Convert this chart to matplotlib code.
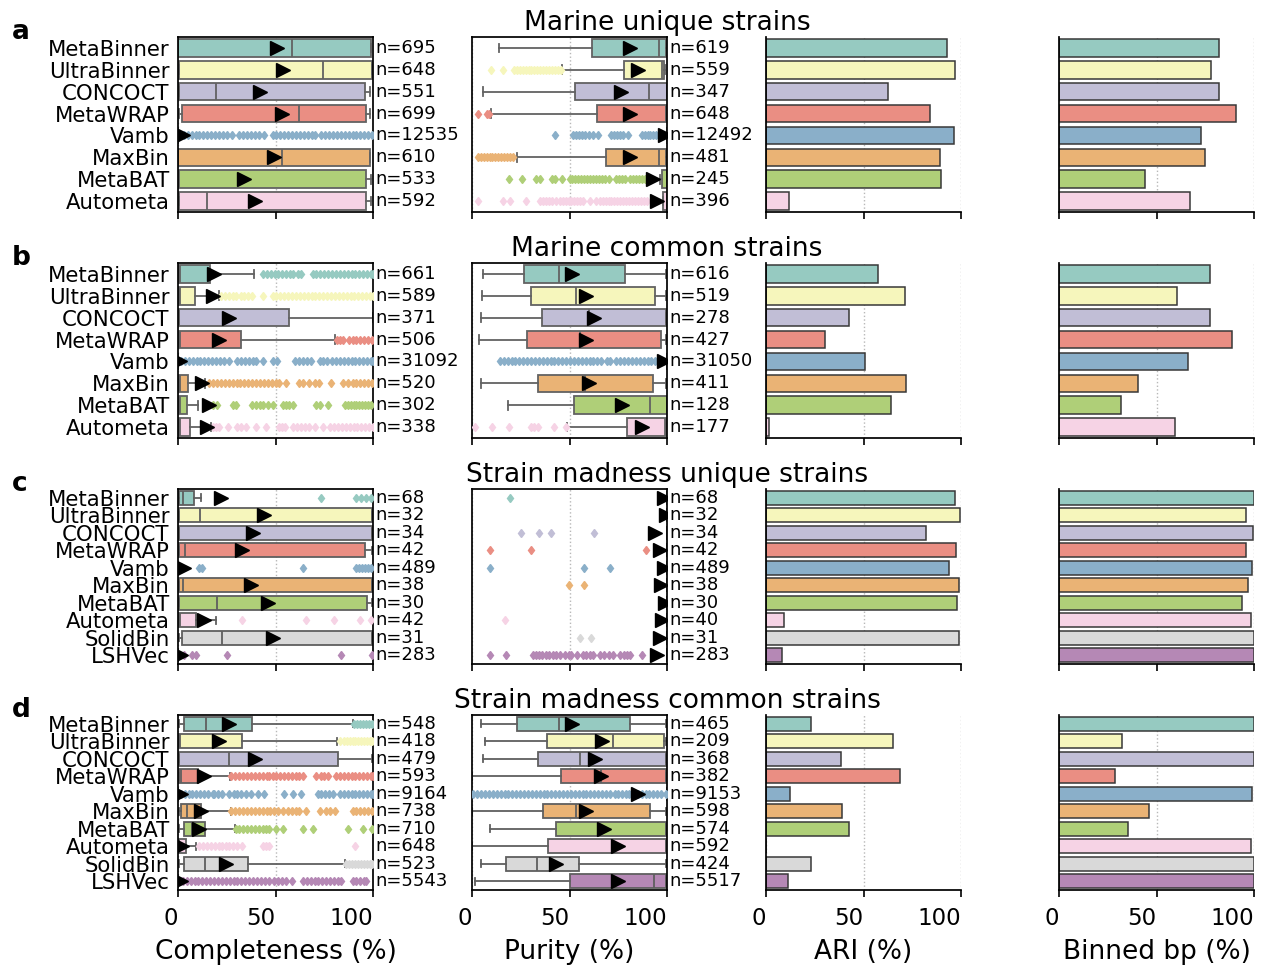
import colorsys
import numpy as np
import matplotlib
matplotlib.use("Agg")
import matplotlib.pyplot as plt
import matplotlib.colors as mcolors
from matplotlib.transforms import blended_transform_factory

plt.rcParams['font.family'] = ['DejaVu Sans']

# ---------------------------------------------------------------- categories
METHODS_MARINE = ["MetaBinner", "UltraBinner", "CONCOCT", "MetaWRAP", "Vamb",
                  "MaxBin", "MetaBAT", "Autometa"]
METHODS_SM = METHODS_MARINE + ["SolidBin", "LSHVec"]
PALETTE = ["#8dd3c7", "#ffffb3", "#bebada", "#fb8072", "#80b1d3",
           "#fdb462", "#b3de69", "#fccde5", "#d9d9d9", "#bc80bd"]

ROW_TITLES = ["Marine unique strains", "Marine common strains",
              "Strain madness unique strains", "Strain madness common strains"]
ROW_LETTERS = ["a", "b", "c", "d"]
COL_LABELS = ["Completeness (%)", "Purity (%)", "ARI (%)", "Binned bp (%)"]
X_TICKS = [0, 50, 100]

# ------------------------------------------------------------- box summaries
# each row: (whisker low, Q1, median, Q3, whisker high, mean)

# a) Marine unique strains
A_COMP_BOX = [(0, 0, 58.5, 99.2, 99.2, 51.0), (0.5, 0.5, 74.6, 99.3, 99.3, 53.7),
              (0.5, 0.5, 19.6, 95.7, 98.5, 42.0), (0.5, 2.0, 62.0, 96.6, 98.5, 53.3),
              (0, 0, 0, 0, 0, 2.5), (0, 0, 53.3, 98.3, 98.3, 49.4),
              (0, 0, 0.3, 96.2, 99.0, 33.6), (0.5, 0.5, 15.0, 96.2, 99.0, 39.6)]
A_COMP_FLIERS = [[], [], [], [],
                 [3, 5, 7, 9, 11, 13, 15, 17, 19, 21, 23, 25, 27.5, 31.5, 33.5, 35.5,
                  37.5, 39.5, 41.5, 44.3, 48.5, 50.5, 52.5, 54.5, 56.5, 58.5, 60.5,
                  62.5, 64.5, 66.5, 68.5, 70.5, 73.5, 75.5, 77.5, 79.5, 81.5, 83.5,
                  85.5, 87.5, 89.5, 91.5, 93.5, 95.5, 97.5, 99.5],
                 [], [], []]
A_COMP_N = [695, 648, 551, 699, 12535, 610, 533, 592]

A_PUR_BOX = [(13.7, 61.4, 95.9, 99.5, 100, 80.9), (45.9, 78.2, 97.5, 98.5, 99.0, 85.2),
             (5.5, 52.9, 90.8, 100, 100, 76.3), (9.6, 64.2, 99.5, 99.7, 100, 80.9),
             (100, 100, 100, 100, 100, 98.8), (23.2, 68.9, 95.7, 99.7, 100, 80.9),
             (96.5, 97.6, 100, 100, 100, 92.7), (98.0, 98.0, 100, 100, 100, 94.9)]
A_PUR_FLIERS = [[],
                [9.6, 15.7, 21.5, 23, 24.5, 26, 27.5, 29, 30.5, 32, 33.5, 35, 36.5,
                 38, 39.5, 41, 42.5, 44, 45.5],
                [],
                [3.2, 7.5, 8.5],
                [42.5, 52, 53.5, 55, 56.5, 58, 60, 62, 64.7, 71.5, 73, 74.5, 76, 77.5,
                 80, 87, 88.5, 90, 91.5, 93, 94.5, 96, 97.5],
                [3.2, 4.5, 6, 7.5, 9, 10.5, 12, 13.5, 15, 16.5, 18, 19.5, 21],
                [19.1, 25.4, 33, 35, 40.8, 42.5, 45.9, 50, 51.5, 53, 54.5, 56, 57.5, 59,
                 60.5, 62, 63.5, 65, 66.5, 68, 70.5, 74, 75.5, 77, 78.3, 81, 82.5, 84,
                 85.5, 87, 88.6, 90],
                [3.2, 16, 19.5, 27.6, 34.8, 36.5, 38, 39.5, 41, 43, 45, 46.5, 48, 49.5,
                 51, 52.5, 54, 55.5, 57, 60.4, 63.8, 65.5, 67, 68.5, 70, 71.5, 73, 74.5,
                 76, 77.5, 79, 80.5, 82, 83.5, 85, 86.5, 88, 89.5]]
A_PUR_N = [619, 559, 347, 648, 12492, 481, 245, 396]

# b) Marine common strains
B_COMP_BOX = [(0.5, 0.5, 1.0, 16.5, 39.1, 18.5), (0.5, 0.5, 1.0, 8.7, 21.0, 18.2),
              (0.5, 0.5, 0.5, 56.8, 100, 26.2), (0.5, 0.5, 1.0, 32.2, 80.3, 21.0),
              (0, 0, 0, 0, 0, 0.8), (0.5, 0.5, 1.0, 5.1, 14.0, 12.5),
              (0.5, 0.5, 1.0, 4.5, 10.3, 16.0), (0.5, 0.5, 1.0, 6.2, 16.8, 15.0)]
B_COMP_FLIERS = [[43.5, 45.5, 47.5, 49.5, 51.5, 53.5, 55.5, 57.5, 59, 61.5, 63, 69, 71,
                  73, 75, 77, 79, 81, 83, 85, 87, 89, 91, 93, 95, 97, 99, 100],
                 [22, 24, 26, 28, 29.7, 32.2, 34, 36, 38.2, 43.4, 48.5, 50.5, 52.5, 54.5,
                  56.5, 58.5, 60.5, 62.5, 64.5, 66.5, 68.5, 70.5, 72.5, 74.5, 76.5, 78.5,
                  80.5, 82.5, 84.5, 86.5, 88.5, 90.5, 92.5, 94.5, 96.5, 98.5, 100],
                 [],
                 [81.5, 83, 84.5, 87.5, 89.5, 91.5, 93.5, 95.5, 97.5, 99.5],
                 [1.5, 3.5, 5.5, 7.5, 9.5, 11.5, 13.5, 15.5, 17.5, 19.5, 21.5, 23.5, 26,
                  30.5, 32.5, 34.5, 36.5, 38.5, 40, 43.4, 48.5, 51, 60, 62, 64, 66, 68,
                  72.6, 74.5, 76.5, 79, 81, 83, 85, 87, 89, 91, 93, 95, 97, 99, 100],
                 [16, 18, 20, 22, 24, 26, 28, 30, 32, 34, 36, 38, 40, 42, 44, 46, 48, 50,
                  52, 55.4, 62, 64, 67, 70, 72.5, 78.6, 84.6, 87, 89.7, 91.5, 93.5, 95.5,
                  97.5, 99.5],
                 [17.7, 20.2, 28, 29.7, 38, 40, 42, 43.4, 46, 48.5, 53.7, 55.5, 57, 58.8,
                  70.8, 72.6, 76.8, 85.4, 87, 88.5, 90, 91.5, 93, 94.5, 96, 97.5, 99],
                 [17.7, 19.5, 21, 25.4, 30.5, 32.5, 34.8, 40, 45, 52, 53.5, 55, 59, 61,
                  63, 65, 67, 70, 74.3, 77.7, 80, 82, 84, 86, 88, 90, 92, 94, 96, 98, 100]]
B_COMP_N = [661, 589, 371, 506, 31092, 520, 302, 338]

B_PUR_BOX = [(5.5, 26.8, 44.4, 78.7, 99.7, 51.5), (5.1, 30.2, 53.2, 94.0, 99.7, 58.4),
             (4.6, 35.7, 60.1, 99.3, 99.3, 62.6), (3.6, 28.0, 55.3, 97.1, 99.7, 58.4),
             (100, 100, 100, 100, 100, 98.3), (4.6, 34.1, 58.0, 92.8, 99.7, 60.1),
             (18.3, 52.4, 91.5, 100, 100, 77.1), (48.5, 79.5, 99.0, 99.3, 99.3, 87.4)]
B_PUR_FLIERS = [[], [], [], [],
                [14.3, 16.3, 18.3, 20.3, 22.3, 24.3, 26.3, 28.3, 30.3, 32.3, 34.3, 36.3,
                 38.3, 40.3, 42.3, 44.3, 46.3, 48.3, 50.3, 52.3, 54.3, 56.3, 58.3, 60.3,
                 62.3, 64.3, 66, 69, 71, 74, 76, 78, 80, 82, 84, 86, 88, 90, 92, 94, 96],
                [], [],
                [1.5, 10.4, 18.8, 30.5, 32, 34, 42, 48.1]]
B_PUR_N = [616, 519, 278, 427, 31050, 411, 128, 177]

# c) Strain madness unique strains
C_COMP_BOX = [(0, 0.3, 2.6, 8.2, 11.7, 22.0), (0.5, 0.5, 11.3, 99.7, 99.7, 43.9),
              (0.5, 0.5, 0.6, 99.7, 99.7, 38.3), (0.5, 0.5, 3.6, 96.0, 99.7, 32.8),
              (0, 0, 0, 0, 0, 3.0), (0.5, 0.5, 2.7, 99.7, 99.7, 37.4),
              (0.5, 0.5, 19.9, 97.0, 99.7, 46.0), (0.5, 0.5, 1.0, 9.4, 19.7, 13.4),
              (0.5, 1.9, 22.5, 99.7, 99.7, 48.5), (0, 0, 0, 0, 0, 1.5)]
C_COMP_FLIERS = [[73.4, 91.4, 94, 96.6, 99.1], [], [], [],
                 [10.8, 12.5, 64, 91.4, 93, 94.5, 96, 97.5, 99],
                 [], [],
                 [32.6, 65.7, 80, 93.1, 99.1],
                 [],
                 [3, 7, 9, 25, 83.4, 99.7]]
C_COMP_N = [68, 32, 34, 42, 489, 38, 30, 42, 31, 283]

C_PUR_BOX = [(100, 100, 100, 100, 100, 98.3), (100, 100, 100, 100, 100, 99.3),
             (100, 100, 100, 100, 100, 93.7), (100, 100, 100, 100, 100, 96.2),
             (100, 100, 100, 100, 100, 98.3), (100, 100, 100, 100, 100, 97.1),
             (100, 100, 100, 100, 100, 98.8), (100, 100, 100, 100, 100, 97.6),
             (100, 100, 100, 100, 100, 96.6), (100, 100, 100, 100, 100, 94.9)]
C_PUR_FLIERS = [[19.5], [], [25, 34.5, 40.4, 62.8], [9, 30, 89], [9, 57.5, 70.6],
                [49.8, 57.3], [], [16.9], [55.3, 61],
                [9, 17.4, 31.4, 33, 34.5, 36, 38, 39.5, 41.5, 43, 45, 47.6, 49.5, 51,
                 53.6, 57, 58.5, 60.5, 62, 65.5, 67.5, 70.5, 72.4, 75.8, 78, 79.5, 81,
                 87.4]]
C_PUR_N = [68, 32, 34, 42, 489, 38, 30, 40, 31, 283]

# d) Strain madness common strains
D_COMP_BOX = [(0.5, 3.3, 14.6, 37.9, 89.7, 25.9), (0.5, 0.5, 1.0, 32.8, 81.6, 21.1),
              (0.5, 0.5, 26.2, 82.3, 99.7, 39.6), (0.5, 0.5, 1.4, 10.5, 26.8, 13.4),
              (0, 0, 0, 0, 0, 1.4), (0.5, 1.4, 4.8, 11.8, 27.1, 11.7),
              (0.5, 3.3, 7.4, 14.1, 29.3, 10.8), (0.5, 0.5, 0.5, 4.3, 9.1, 1.9),
              (0.5, 3.3, 13.7, 35.8, 85.4, 24.5), (0, 0, 0, 0, 0, 1.4)]
D_COMP_FLIERS = [[90.5, 92, 93.5, 95, 96.5, 98, 99.5],
                 [83.2, 85, 86.5, 88, 89.5, 91, 92.5, 94, 95.5, 97, 98.5, 99.7],
                 [],
                 [27.4, 29.4, 31.4, 33.4, 35.4, 37.4, 39.4, 41.4, 43.4, 45.4, 46.8, 48.5,
                  50.5, 52.5, 54.5, 56.5, 58.5, 60.5, 62.3, 64, 70.8, 73.4, 75, 76.8, 81,
                  83, 85, 87, 89, 91, 93, 95, 97, 99, 100],
                 [1.4, 3.4, 5.4, 7.4, 9.4, 11.4, 13.4, 15.4, 17.7, 18.5, 20.5, 22.8, 26.2,
                  28.5, 30.5, 32.5, 34.8, 37.4, 40.9, 44.3, 54.5, 58.8, 63.1, 71.7, 73.5,
                  75.5, 77.5, 79.4, 83, 85, 87, 89, 91, 93, 95, 97, 99, 100],
                 [27.4, 29.4, 31.4, 33.4, 35.4, 37.4, 39.4, 41.4, 43.4, 45.4, 47.4, 49.4,
                  51.4, 53.7, 56.3, 58.3, 60.3, 62.3, 65.7, 72.6, 76, 78, 80.3, 89.7,
                  91.5, 93.5, 95.5, 97.5, 99.5],
                 [29.7, 31.5, 33.5, 35.5, 37.5, 39.5, 41.5, 43.5, 45, 46.8, 50.5, 53.7, 64,
                  69, 87, 94.7, 99.7],
                 [10.8, 12.8, 14.8, 16.8, 18.8, 20.8, 22.8, 24.8, 26.2, 28, 30.5, 33,
                  43.4, 45, 46.8, 90.6],
                 [86.3, 87.8, 89.3, 90.8, 92.3, 93.8, 95.3, 96.8, 98.3, 99.7],
                 [0.5, 2.5, 4.5, 6.5, 8.5, 10.5, 12.5, 14.5, 16.5, 18.5, 20.5, 22.5, 24.5,
                  26.5, 28.5, 30.5, 32.5, 34.5, 36.5, 38.5, 40.5, 42.5, 44.5, 46.8, 49.4,
                  51.5, 53.5, 55.4, 58.5, 64, 66, 68, 70, 72, 74, 76, 78, 80, 82, 83.7,
                  89.7, 91.5, 93.5, 95.5, 96.6]]
D_COMP_N = [548, 418, 479, 593, 9164, 738, 710, 648, 523, 5543]

D_PUR_BOX = [(4.4, 22.9, 44.7, 80.9, 99.7, 51.4), (6.7, 38.6, 72.4, 98.3, 99.7, 66.9),
             (5.8, 33.6, 55.6, 99.7, 99.7, 63.0), (0, 45.4, 65.9, 99.7, 99.7, 66.0),
             (100, 100, 100, 100, 100, 85.2), (0, 36.5, 53.2, 91.5, 99.7, 58.7),
             (9.2, 43.3, 99.7, 99.7, 99.7, 67.6), (0, 39.0, 99.7, 99.7, 99.7, 74.9),
             (4.4, 17.2, 33.1, 55.0, 99.7, 43.0), (1.5, 50.2, 93.3, 99.7, 99.7, 74.9)]
D_PUR_FLIERS = [[], [], [], [],
                [0.7, 2.7, 4.7, 6.7, 8.7, 10.7, 12.7, 14.7, 16.7, 18.7, 20.7, 22.7, 24.7,
                 26.7, 28.7, 30.7, 32.7, 34.7, 36.7, 38.7, 40.7, 42.7, 44.7, 46.7, 48.7,
                 50.7, 52.7, 54.7, 56.7, 58.7, 60.7, 62.7, 64.7, 66.7, 68.7, 70.7, 73.2,
                 75, 77, 79, 80.5, 83, 85, 87, 89, 91, 93, 95, 97, 99.7],
                [], [], [], [], []]
D_PUR_N = [465, 209, 368, 382, 9153, 598, 574, 592, 424, 5517]

# ----------------------------------------------------------------- bar values
A_ARI = [92.7, 96.9, 62.8, 84.1, 96.4, 89.2, 89.6, 11.8]
A_BP = [82.1, 78.0, 82.1, 91.0, 72.7, 75.1, 44.3, 67.3]
B_ARI = [57.3, 71.5, 42.7, 30.5, 50.9, 72.0, 64.3, 1.4]
B_BP = [77.5, 60.3, 77.5, 88.6, 66.1, 40.5, 32.0, 59.6]
C_ARI = [96.8, 99.5, 82.1, 97.4, 94.0, 99.1, 98.1, 9.4, 98.8, 8.2]
C_BP = [100, 95.7, 99.7, 95.7, 99.1, 96.9, 93.7, 98.3, 100, 100]
D_ARI = [23.0, 65.0, 38.6, 68.8, 12.3, 38.9, 42.7, 0.0, 23.0, 11.1]
D_BP = [100, 32.4, 100, 28.8, 99.1, 46.0, 35.4, 98.6, 100, 100]

ROWS = [
    (METHODS_MARINE, A_COMP_BOX, A_COMP_FLIERS, A_COMP_N, A_PUR_BOX, A_PUR_FLIERS, A_PUR_N, A_ARI, A_BP),
    (METHODS_MARINE, B_COMP_BOX, B_COMP_FLIERS, B_COMP_N, B_PUR_BOX, B_PUR_FLIERS, B_PUR_N, B_ARI, B_BP),
    (METHODS_SM, C_COMP_BOX, C_COMP_FLIERS, C_COMP_N, C_PUR_BOX, C_PUR_FLIERS, C_PUR_N, C_ARI, C_BP),
    (METHODS_SM, D_COMP_BOX, D_COMP_FLIERS, D_COMP_N, D_PUR_BOX, D_PUR_FLIERS, D_PUR_N, D_ARI, D_BP),
]

# ------------------------------------------------------------------ styling
W_PX, H_PX = 1262, 966
COL_LEFT = [178, 472, 766, 1059]
COL_W = 195
ROW_TOP = [37, 263, 489, 715]
ROW_H = 175


def desaturate(color, prop=0.75):
    h, l, s = colorsys.rgb_to_hls(*mcolors.to_rgb(color))
    return colorsys.hls_to_rgb(h, l, s * prop)


def axes_rect(col, row):
    left = COL_LEFT[col] / W_PX
    bottom = (H_PX - ROW_TOP[row] - ROW_H) / H_PX
    return [left, bottom, COL_W / W_PX, ROW_H / H_PX]


def style_x(ax, show_labels, xlabel):
    ax.set_xlim(0, 100)
    ax.set_xticks(X_TICKS, labels=[str(t) for t in X_TICKS])
    ax.tick_params(axis='x', length=5, width=1.2, direction='out', labelsize=16.5, pad=7)
    ax.tick_params(axis='y', length=0)
    ax.xaxis.grid(True, linestyle=':', color='0.72', linewidth=1.0)
    ax.set_axisbelow(True)
    if show_labels:
        for lbl in ax.get_xticklabels():
            lbl.set_horizontalalignment('right')
        ax.set_xlabel(xlabel, fontsize=19, labelpad=7)
    else:
        ax.tick_params(axis='x', labelbottom=False)


def draw_boxes(ax, methods, box_rows, fliers, counts, show_names):
    n = len(methods)
    colors = [desaturate(c) for c in PALETTE[:n]]
    lum = min(colorsys.rgb_to_hls(*c)[1] for c in colors) * 0.6
    gray = (lum, lum, lum)
    stats = []
    for (wlo, q1, med, q3, whi, mean), fl in zip(box_rows, fliers):
        stats.append(dict(whislo=wlo, q1=q1, med=med, q3=q3, whishi=whi,
                          mean=mean, fliers=np.asarray(fl, dtype=float)))
    art = ax.bxp(stats, positions=list(range(n)), widths=0.8,
                 orientation='horizontal', patch_artist=True, showmeans=True,
                 manage_ticks=False,
                 boxprops=dict(edgecolor=gray, linewidth=1.3),
                 whiskerprops=dict(color=gray, linewidth=1.3),
                 capprops=dict(color=gray, linewidth=1.3),
                 medianprops=dict(color=gray, linewidth=1.3),
                 meanprops=dict(marker='>', markerfacecolor='black',
                                markeredgecolor='black', markersize=10),
                 flierprops=dict(marker='d', markersize=4.5, linestyle='none'))
    for patch, col in zip(art['boxes'], colors):
        patch.set_facecolor(col)
    for fl, col in zip(art['fliers'], colors):
        fl.set_markerfacecolor(col)
        fl.set_markeredgecolor(col)
        fl.set_zorder(3)
    for m in art['means']:
        m.set_zorder(4)
    ax.set_ylim(n - 0.5, -0.5)
    ax.set_yticks(range(n))
    if show_names:
        ax.set_yticklabels(methods, fontsize=15.3)
        ax.tick_params(axis='y', pad=6)
    else:
        ax.set_yticklabels([])
    for sp in ax.spines.values():
        sp.set_linewidth(1.25)
        sp.set_color('black')
    tr = blended_transform_factory(ax.transAxes, ax.transData)
    for i, c in enumerate(counts):
        ax.annotate(f"n={c}", xy=(1.0, i), xycoords=tr, xytext=(2, 0),
                    textcoords='offset points', ha='left', va='center',
                    fontsize=13, annotation_clip=False)


def draw_bars(ax, methods, values):
    n = len(methods)
    colors = [desaturate(c) for c in PALETTE[:n]]
    ax.barh(range(n), values, height=0.8, color=colors, edgecolor='0.22',
            linewidth=1.1)
    ax.set_ylim(n - 0.5, -0.5)
    ax.set_yticks([])
    for side in ('top', 'right'):
        ax.spines[side].set_visible(False)
    for side in ('left', 'bottom'):
        ax.spines[side].set_linewidth(1.25)
        ax.spines[side].set_color('black')
    ax.xaxis.grid(True, linestyle=':', color='0.72', linewidth=1.0)


fig = plt.figure(figsize=(W_PX / 100, H_PX / 100), dpi=100)

for r, (methods, cbox, cfl, cn, pbox, pfl, pn, ari, bp) in enumerate(ROWS):
    last = r == len(ROWS) - 1
    ax1 = fig.add_axes(axes_rect(0, r))
    draw_boxes(ax1, methods, cbox, cfl, cn, True)
    style_x(ax1, last, COL_LABELS[0])

    ax2 = fig.add_axes(axes_rect(1, r))
    draw_boxes(ax2, methods, pbox, pfl, pn, False)
    style_x(ax2, last, COL_LABELS[1])

    ax3 = fig.add_axes(axes_rect(2, r))
    draw_bars(ax3, methods, ari)
    style_x(ax3, last, COL_LABELS[2])

    ax4 = fig.add_axes(axes_rect(3, r))
    draw_bars(ax4, methods, bp)
    style_x(ax4, last, COL_LABELS[3])

    top = ROW_TOP[r]
    fig.text(667 / W_PX, (H_PX - (top - 7)) / H_PX, ROW_TITLES[r],
             ha='center', va='baseline', fontsize=19)
    fig.text(12 / W_PX, (H_PX - (top + 2)) / H_PX, ROW_LETTERS[r],
             ha='left', va='baseline', fontsize=19, fontweight='bold')

fig.savefig("out.png", dpi=100)
